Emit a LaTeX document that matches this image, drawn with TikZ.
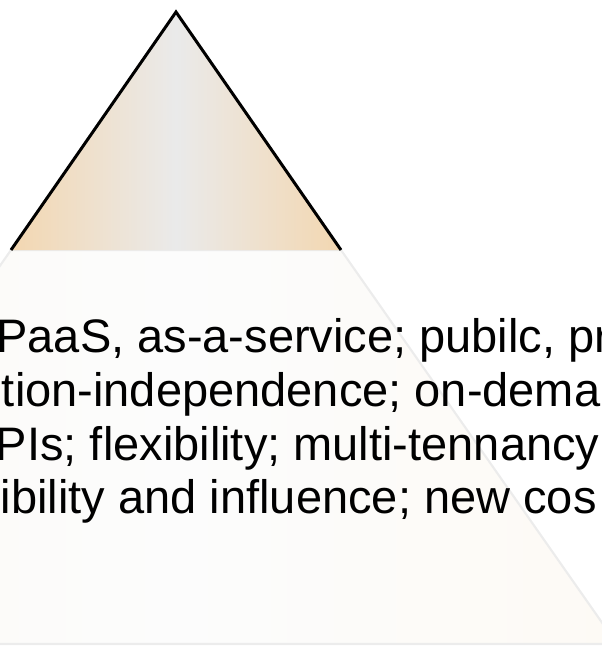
\documentclass[tikz,border=0pt]{standalone}
\usepackage{fontspec}
\setmainfont{Liberation Sans}
\usetikzlibrary{positioning}
\definecolor{layerOrange}{RGB}{243,215,177}
\definecolor{layerGrey}{RGB}{234,234,234}
\definecolor{ghostEdge}{RGB}{236,236,236}
\definecolor{ghostFill}{RGB}{253,250,245}
\definecolor{ghostMid}{RGB}{252,252,252}

\begin{document}
\begin{tikzpicture}[
  x=0.75pt,y=-0.75pt,
  font=\fontsize{35.25}{40.5}\selectfont,
  toplayer/.style={left color=layerOrange,right color=layerOrange,
                   middle color=layerGrey},
  ghost/.style={draw=ghostEdge,line width=1.6pt,left color=ghostFill,
                right color=ghostFill,middle color=ghostMid},
  rim/.style={draw=black,line width=2.25pt,line join=miter},
  txt/.style={anchor=base west,inner sep=0pt,outer sep=0pt},
]
  \useasboundingbox (0,0) rectangle (602,646);
  \clip (0,0) rectangle (602,646);

  \coordinate (apex) at (176,12);
  \coordinate (tl) at (11,250);
  \coordinate (tr) at (341,250);
  \coordinate (bl) at (-265,644);
  \coordinate (br) at (617,644);

  % faded lower layer
  \path[ghost] (tl) -- (tr) -- (br) -- (bl) -- cycle;

  % top layer
  \path[toplayer] (tl) -- (apex) -- (tr) -- cycle;
  \draw[rim] (tl) -- (apex) -- (tr);

  \node[txt] (l1) at (-3.5,352) {PaaS, as-a-service; pubilc, pr};
  \node[txt] (l2) at (2,406) {tion-independence; on-dema};
  \node[txt] (l3) at (-4,460) {PIs; flexibility; multi-tennancy};
  \node[txt] (l4) at (1,513) {ibility and influence; new cos};
\end{tikzpicture}
\end{document}
